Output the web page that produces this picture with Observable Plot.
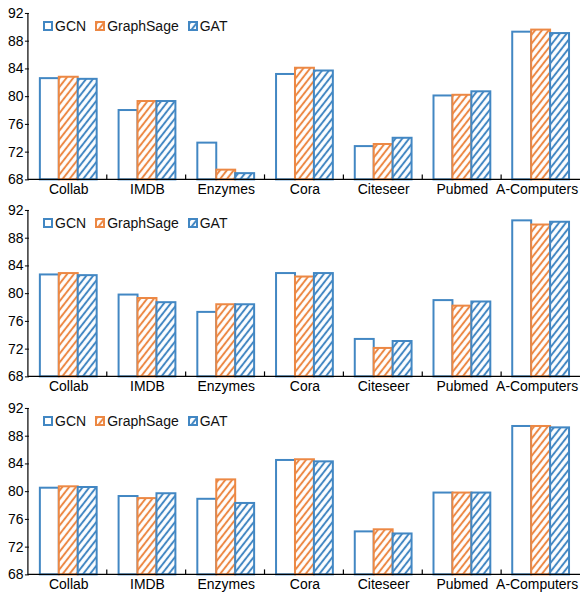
<!DOCTYPE html>
<html><head><meta charset="utf-8">
<script src="https://cdn.jsdelivr.net/npm/d3@7"></script>
<script src="https://cdn.jsdelivr.net/npm/@observablehq/plot@0.6"></script>
<style>
body{margin:0;background:#fff;font-family:"Liberation Sans",Arial,Helvetica,sans-serif;overflow:hidden;width:580px;height:595px}
.panel{position:relative;width:580px}
.panel svg.plot{display:block;overflow:visible}
.legend{position:absolute;left:43px;top:18px;display:flex;align-items:center;font-size:14px;line-height:16px;color:#111;white-space:nowrap}
.legend .item{display:flex;align-items:center;margin-right:9px}
.legend .item svg{margin-right:2px}
</style>
</head><body>
<svg width="0" height="0" style="position:absolute">
  <defs>
    <pattern id="hatchOrange" patternUnits="userSpaceOnUse" width="5.4" height="10" patternTransform="rotate(38)">
      <rect width="5.4" height="10" fill="white"/>
      <line x1="2.7" y1="-1" x2="2.7" y2="11" stroke="#EC8844" stroke-width="2"/>
    </pattern>
    <pattern id="hatchBlue" patternUnits="userSpaceOnUse" width="5.4" height="10" patternTransform="rotate(38)">
      <rect width="5.4" height="10" fill="white"/>
      <line x1="2.7" y1="-1" x2="2.7" y2="11" stroke="#4287C3" stroke-width="2"/>
    </pattern>
  </defs>
</svg>
<div id="root"></div>
<script>
// ---- data ----
const categories = ["Collab", "IMDB", "Enzymes", "Cora", "Citeseer", "Pubmed", "A-Computers"];
const models = ["GCN", "GraphSage", "GAT"];
const yTicks = [68, 72, 76, 80, 84, 88, 92];

const gcn1  = [82.6, 78.0, 73.3, 83.2, 72.8, 80.1, 89.3];
const sage1 = [82.8, 79.3, 69.4, 84.1, 73.1, 80.2, 89.6];
const gat1  = [82.5, 79.3, 68.9, 83.7, 74.0, 80.7, 89.1];

const gcn2  = [82.7, 79.8, 77.3, 82.9, 73.4, 79.0, 90.5];
const sage2 = [82.9, 79.3, 78.4, 82.4, 72.1, 78.2, 89.9];
const gat2  = [82.6, 78.7, 78.4, 82.9, 73.1, 78.8, 90.3];

const gcn3  = [80.5, 79.3, 78.9, 84.5, 74.2, 79.8, 89.4];
const sage3 = [80.7, 79.0, 81.7, 84.6, 74.5, 79.8, 89.4];
const gat3  = [80.6, 79.7, 78.3, 84.3, 73.9, 79.8, 89.2];

const panels = [[gcn1, sage1, gat1], [gcn2, sage2, gat2], [gcn3, sage3, gat3]];
const panelHeights = [198, 198, 199];

// ---- styles ----
const blue = "#4287C3", orange = "#EC8844";
const styleOf = {
  GCN: {stroke: blue, fill: "white"},
  GraphSage: {stroke: orange, fill: "url(#hatchOrange)"},
  GAT: {stroke: blue, fill: "url(#hatchBlue)"}
};

const root = document.getElementById("root");

panels.forEach((series, p) => {
  const rows = [];
  series.forEach((vals, m) => vals.forEach((v, i) => rows.push({cat: categories[i], model: models[m], value: v})));
  const H = panelHeights[p];
  const plot = Plot.plot({
    width: 582,
    height: H,
    marginLeft: 28,
    marginRight: 0,
    marginTop: 13,
    marginBottom: H - 180,
    style: {fontFamily: '"Liberation Sans", Arial, Helvetica, sans-serif', fontSize: "14px", color: "#000", background: "transparent"},
    fx: {domain: categories, padding: 0, axis: "bottom", label: null, tickSize: 0, tickPadding: 4},
    x: {domain: models, paddingInner: 0, paddingOuter: 0.48, axis: null},
    y: {domain: [yTicks[0], yTicks[yTicks.length - 1]], ticks: yTicks, tickSize: 4, tickPadding: 2, label: null},
    marks: models.map(m => Plot.barY(rows.filter(d => d.model === m), {
      fx: "cat", x: "model", y1: () => yTicks[0], y2: "value",
      fill: styleOf[m].fill, stroke: styleOf[m].stroke, strokeWidth: 2
    }))
  });
  plot.classList.add("plot");

  // keep the last group label inside the page
  const fxLabels = d3.select(plot).selectAll('[aria-label="fx-axis tick label"] text').nodes();
  if (fxLabels.length) d3.select(fxLabels[fxLabels.length - 1]).attr("dx", -4);

  // axis lines and between-group ticks from the plot's scales
  const fx = plot.scale("fx"), y = plot.scale("y");
  const [r0, r1] = fx.range;
  const [yb, yt] = y.range;
  const step = (r1 - r0) / categories.length;
  const g = d3.select(plot).append("g").attr("stroke", "#000").attr("stroke-width", 1.2).attr("fill", "none");
  g.append("line").attr("x1", r0).attr("x2", r0).attr("y1", yb + 0.5).attr("y2", yt);
  g.append("line").attr("x1", r0).attr("x2", r1).attr("y1", yb).attr("y2", yb);
  for (let i = 1; i < categories.length; i++) {
    const xx = r0 + i * step;
    g.append("line").attr("x1", xx).attr("x2", xx).attr("y1", yb).attr("y2", yb - 5);
  }

  const wrap = document.createElement("div");
  wrap.className = "panel";
  wrap.appendChild(plot);
  const legend = document.createElement("div");
  legend.className = "legend";
  models.forEach(m => {
    const item = document.createElement("div");
    item.className = "item";
    item.innerHTML = `<svg width="10" height="10"><rect x="1" y="1" width="8" height="8" fill="${styleOf[m].fill}" stroke="${styleOf[m].stroke}" stroke-width="2"/></svg><span>${m}</span>`;
    legend.appendChild(item);
  });
  wrap.appendChild(legend);
  root.appendChild(wrap);
});
</script>
</body></html>
